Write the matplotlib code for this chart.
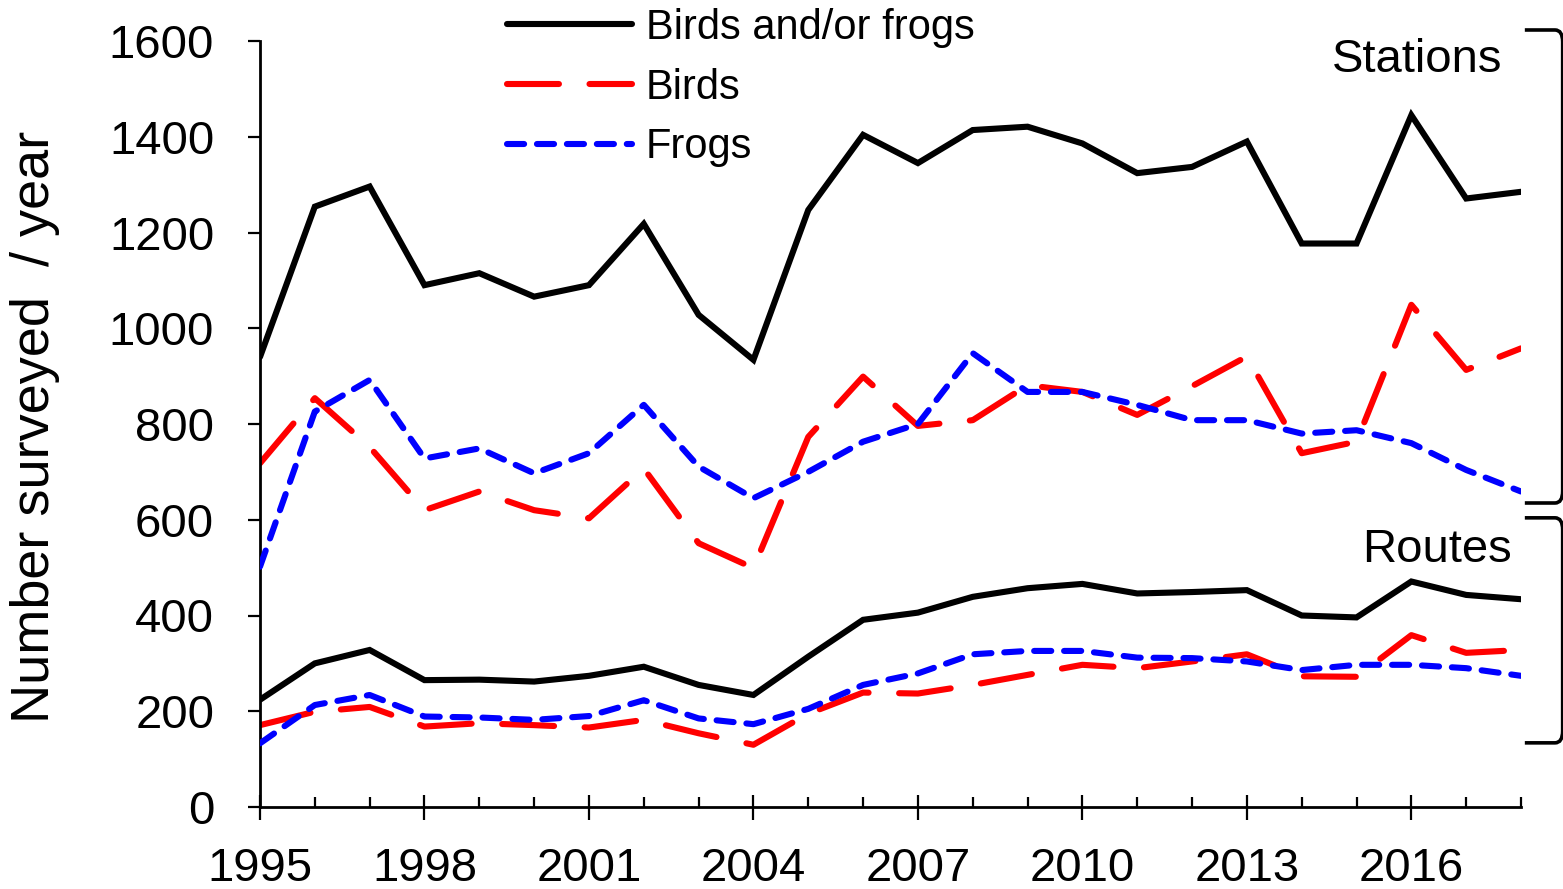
"""
plot.py  —  Number of stations / routes surveyed per year (birds, frogs).
"""

import matplotlib
matplotlib.use("Agg")
import matplotlib.pyplot as plt
from matplotlib.path import Path
from matplotlib.patches import PathPatch
from matplotlib.ticker import MultipleLocator

years = list(range(1995, 2019))

# stations
st_both  = [940, 1254, 1296, 1090, 1115, 1066, 1090, 1218, 1028, 934, 1247, 1404,
            1345, 1414, 1421, 1386, 1324, 1337, 1390, 1177, 1177, 1445, 1271, 1285]
st_birds = [718, 854, 752, 620, 659, 620, 603, 707, 551, 499, 773, 899,
            796, 808, 881, 867, 819, 879, 941, 739, 763, 1049, 913, 958]
st_frogs = [502, 826, 892, 728, 749, 697, 739, 840, 711, 645, 700, 763,
            800, 948, 867, 867, 840, 808, 808, 780, 787, 760, 704, 659]

# routes
rt_both  = [224, 300, 328, 265, 266, 262, 274, 293, 255, 234, 314, 391,
            406, 439, 457, 466, 446, 449, 453, 400, 396, 471, 443, 434]
rt_birds = [171, 199, 209, 168, 175, 171, 166, 182, 154, 130, 195, 239,
            237, 255, 276, 297, 290, 304, 319, 273, 272, 359, 322, 328]
rt_frogs = [133, 213, 234, 189, 187, 182, 190, 223, 185, 173, 205, 255,
            279, 319, 326, 326, 312, 311, 304, 286, 297, 297, 290, 274]

labels = ["Birds and/or frogs", "Birds", "Frogs"]
brackets = {"Stations": (1623, 635), "Routes": (604, 134)}

plt.rcParams["font.family"] = ["Liberation Sans", "DejaVu Sans"]

W, H, DPI = 1563, 889, 100
fig = plt.figure(figsize=(W / DPI, H / DPI), dpi=DPI)
ax = fig.add_axes([260 / W, 1 - 807 / H, (1521 - 260) / W, (807 - 41) / H])

LW = 4.4
styles = [
    dict(color="black", lw=LW, solid_capstyle="round", solid_joinstyle="miter", zorder=4),
    dict(color="#ff0000", lw=LW, dashes=(8.5, 5.0), dash_capstyle="round", zorder=2),
    dict(color="#0000ff", lw=LW, dashes=(2.8, 2.1), dash_capstyle="round", zorder=3),
]

handles = []
for ys, st, lab in zip([st_both, st_birds, st_frogs], styles, labels):
    h, = ax.plot(years, ys, label=lab, **st)
    handles.append(h)
for ys, st in zip([rt_both, rt_birds, rt_frogs], styles):
    ax.plot(years, ys, **st)

ax.set_xlim(1995, 2018)
ax.set_ylim(0, 1600)
ax.xaxis.set_major_locator(MultipleLocator(3))
ax.xaxis.set_minor_locator(MultipleLocator(1))
ax.yaxis.set_major_locator(MultipleLocator(200))

for s in ["top", "right"]:
    ax.spines[s].set_visible(False)
for s in ["left", "bottom"]:
    ax.spines[s].set_linewidth(2.0)

ax.tick_params(axis="y", direction="out", length=9, width=1.6,
               labelsize=34, pad=24)
ax.tick_params(axis="x", which="major", direction="inout", length=18, width=1.6,
               labelsize=34, pad=20)
ax.tick_params(axis="x", which="minor", direction="in", length=7, width=1.6)

fig.text(35 / W, 1 - 427 / H, "Number surveyed  / year", rotation=90,
         ha="center", va="center", fontsize=39)

fig.legend(handles=handles, loc="upper left", bbox_to_anchor=(507 / W, 1 - 8 / H),
           frameon=False, fontsize=30, handlelength=3.0, handletextpad=0.33,
           labelspacing=0.47, borderpad=0.0, borderaxespad=0.0)

fig.text(1502 / W, 1 - 60 / H, "Stations", ha="right", va="center", fontsize=34)
fig.text(1512 / W, 1 - 550 / H, "Routes", ha="right", va="center", fontsize=34)

# right-hand brackets, drawn in data coords outside the axes
x0, x1, xr = 2018.07, 2018.62, 2018.76
for name, (top, bot) in brackets.items():
    r = 25
    verts = [(x0, top), (x1, top), (xr, top), (xr, top - r),
             (xr, bot + r), (xr, bot), (x1, bot), (x0, bot)]
    codes = [Path.MOVETO, Path.LINETO, Path.CURVE3, Path.CURVE3,
             Path.LINETO, Path.CURVE3, Path.CURVE3, Path.LINETO]
    ax.add_patch(PathPatch(Path(verts, codes), fill=False, lw=2.6,
                           color="black", clip_on=False, capstyle="butt"))

fig.savefig("out.png", dpi=DPI)
